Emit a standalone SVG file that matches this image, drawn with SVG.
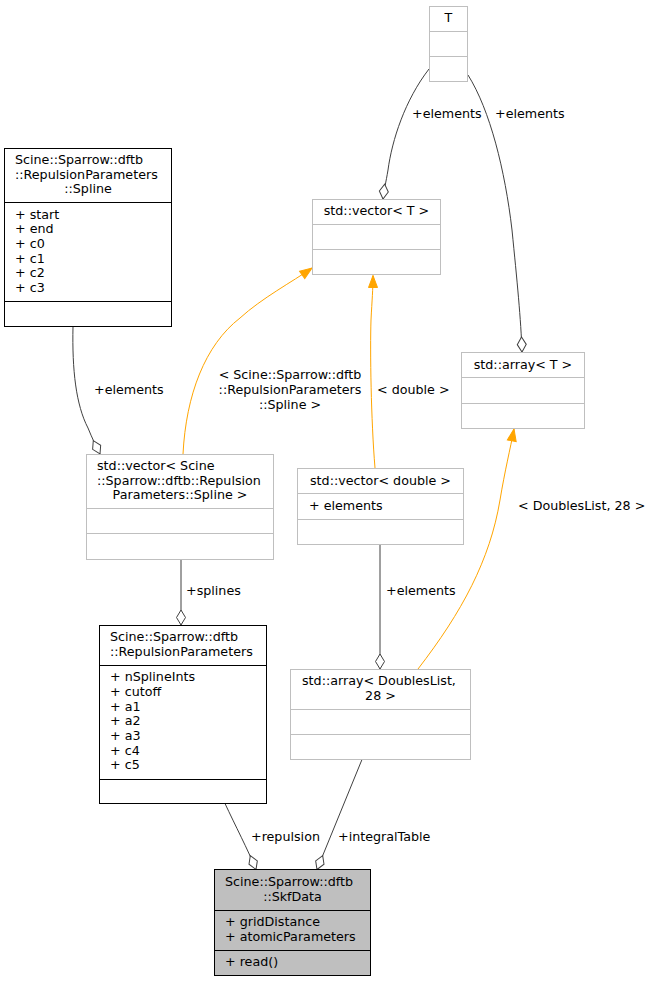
<svg xmlns="http://www.w3.org/2000/svg" width="651" height="981" viewBox="0 0 651 981">
<style>
text{font-family:"DejaVu Sans","Liberation Sans",sans-serif;font-size:12.7px;fill:#000}
.c{text-anchor:middle}
.g{fill:#fff;stroke:#bfbfbf;stroke-width:1}
.gl{stroke:#bfbfbf;stroke-width:1}
.b{fill:#fff;stroke:#000;stroke-width:1}
.bl{stroke:#000;stroke-width:1}
.agg{fill:none;stroke:#404040;stroke-width:1;marker-end:url(#dia)}
.tpl{fill:none;stroke:#ffa500;stroke-width:1;marker-end:url(#arr)}
</style>
<defs>
<marker id="dia" markerUnits="userSpaceOnUse" markerWidth="16" markerHeight="10" viewBox="0 0 16 10" refX="15" refY="5" orient="auto" overflow="visible">
<path d="M0,5 L7.5,0.5 L15,5 L7.5,9.5 Z" fill="#fff" stroke="#404040" stroke-width="1"/>
</marker>
<marker id="arr" markerUnits="userSpaceOnUse" markerWidth="13" markerHeight="10" viewBox="0 0 13 10" refX="12" refY="5" orient="auto" overflow="visible">
<path d="M0,0.5 L12,5 L0,9.5 Z" fill="#ffa500" stroke="#ffa500" stroke-width="1"/>
</marker>
</defs>
<rect width="651" height="981" fill="#fff"/>

<g id="edges">
<path class="agg" d="M429,69 C405,100 392,140 388,170 C386,182 384,190 383,199"/>
<path class="agg" d="M468,75 C490,110 505,170 512,230 C517,280 521,320 522,352"/>
<path class="agg" d="M73,326.5 C72,370 76,405 88,428 C92,438 96,446 100,454"/>
<path class="tpl" d="M183,454 C186,395 205,345 240,318 C262,298 292,282 312,268"/>
<path class="tpl" d="M375,468 C371,420 370,350 371,320 C372,300 373,290 373,275.5"/>
<path class="agg" d="M181,559.5 L181,625"/>
<path class="agg" d="M380,544.5 L380,669"/>
<path class="tpl" d="M418,669 C462,612 490,560 500,500 C505,470 510,450 514,429"/>
<path class="agg" d="M225,803.5 C235,825 248,850 256,869.5"/>
<path class="agg" d="M362,759.5 L317,869.5"/>
<text x="412" y="118">+elements</text>
<text x="495" y="118">+elements</text>
<text x="94" y="394">+elements</text>
<text class="c" x="290" y="379">&lt; Scine::Sparrow::dftb</text>
<text class="c" x="290" y="394">::RepulsionParameters</text>
<text class="c" x="290" y="409">::Spline &gt;</text>
<text x="377" y="394">&lt; double &gt;</text>
<text x="518" y="510">&lt; DoublesList, 28 &gt;</text>
<text x="186" y="595">+splines</text>
<text x="386" y="595">+elements</text>
<text x="251" y="841">+repulsion</text>
<text x="338" y="841">+integralTable</text>
</g>

<g id="T">
<rect class="g" x="429.5" y="6.5" width="38" height="75"/>
<line class="gl" x1="429.5" y1="31.5" x2="467.5" y2="31.5"/>
<line class="gl" x1="429.5" y1="56.5" x2="467.5" y2="56.5"/>
<text class="c" x="448.5" y="22">T</text>
</g>

<g id="Spline">
<rect class="b" x="4.5" y="148.5" width="167" height="178"/>
<line class="bl" x1="4.5" y1="202.5" x2="171.5" y2="202.5"/>
<line class="bl" x1="4.5" y1="301.5" x2="171.5" y2="301.5"/>
<text x="15" y="164">Scine::Sparrow::dftb</text>
<text x="15" y="179">::RepulsionParameters</text>
<text class="c" x="88" y="193">::Spline</text>
<text x="15" y="219">+ start</text>
<text x="15" y="233">+ end</text>
<text x="15" y="248">+ c0</text>
<text x="15" y="263">+ c1</text>
<text x="15" y="277">+ c2</text>
<text x="15" y="292">+ c3</text>
</g>

<g id="vectorT">
<rect class="g" x="312.5" y="199.5" width="128" height="75"/>
<line class="gl" x1="312.5" y1="224.5" x2="440.5" y2="224.5"/>
<line class="gl" x1="312.5" y1="249.5" x2="440.5" y2="249.5"/>
<text class="c" x="376.5" y="215">std::vector&lt; T &gt;</text>
</g>

<g id="arrayT">
<rect class="g" x="461.5" y="352.5" width="123" height="76"/>
<line class="gl" x1="461.5" y1="377.5" x2="584.5" y2="377.5"/>
<line class="gl" x1="461.5" y1="403.5" x2="584.5" y2="403.5"/>
<text class="c" x="523" y="369">std::array&lt; T &gt;</text>
</g>

<g id="vectorSpline">
<rect class="g" x="86.5" y="454.5" width="187" height="105"/>
<line class="gl" x1="86.5" y1="508.5" x2="273.5" y2="508.5"/>
<line class="gl" x1="86.5" y1="533.5" x2="273.5" y2="533.5"/>
<text x="97" y="470">std::vector&lt; Scine</text>
<text x="97" y="485">::Sparrow::dftb::Repulsion</text>
<text class="c" x="180" y="499">Parameters::Spline &gt;</text>
</g>

<g id="vectorDouble">
<rect class="g" x="297.5" y="468.5" width="166" height="76"/>
<line class="gl" x1="297.5" y1="493.5" x2="463.5" y2="493.5"/>
<line class="gl" x1="297.5" y1="519.5" x2="463.5" y2="519.5"/>
<text class="c" x="380.5" y="485">std::vector&lt; double &gt;</text>
<text x="309" y="510">+ elements</text>
</g>

<g id="RepulsionParameters">
<rect class="b" x="99.5" y="625.5" width="167" height="178"/>
<line class="bl" x1="99.5" y1="665.5" x2="266.5" y2="665.5"/>
<line class="bl" x1="99.5" y1="779.5" x2="266.5" y2="779.5"/>
<text x="110" y="641">Scine::Sparrow::dftb</text>
<text x="110" y="656">::RepulsionParameters</text>
<text x="110" y="681">+ nSplineInts</text>
<text x="110" y="696">+ cutoff</text>
<text x="110" y="711">+ a1</text>
<text x="110" y="725">+ a2</text>
<text x="110" y="740">+ a3</text>
<text x="110" y="755">+ c4</text>
<text x="110" y="769">+ c5</text>
</g>

<g id="arrayDoublesList">
<rect class="g" x="290.5" y="669.5" width="180" height="90"/>
<line class="gl" x1="290.5" y1="709.5" x2="470.5" y2="709.5"/>
<line class="gl" x1="290.5" y1="734.5" x2="470.5" y2="734.5"/>
<text x="302" y="685">std::array&lt; DoublesList,</text>
<text class="c" x="380.5" y="700">28 &gt;</text>
</g>

<g id="SkfData">
<rect x="214.5" y="869.5" width="156" height="106" fill="#bfbfbf" stroke="#000" stroke-width="1"/>
<line class="bl" x1="214.5" y1="910.5" x2="370.5" y2="910.5"/>
<line class="bl" x1="214.5" y1="950.5" x2="370.5" y2="950.5"/>
<text x="225" y="886">Scine::Sparrow::dftb</text>
<text class="c" x="292.5" y="901">::SkfData</text>
<text x="225" y="926">+ gridDistance</text>
<text x="225" y="941">+ atomicParameters</text>
<text x="225" y="966">+ read()</text>
</g>
</svg>
